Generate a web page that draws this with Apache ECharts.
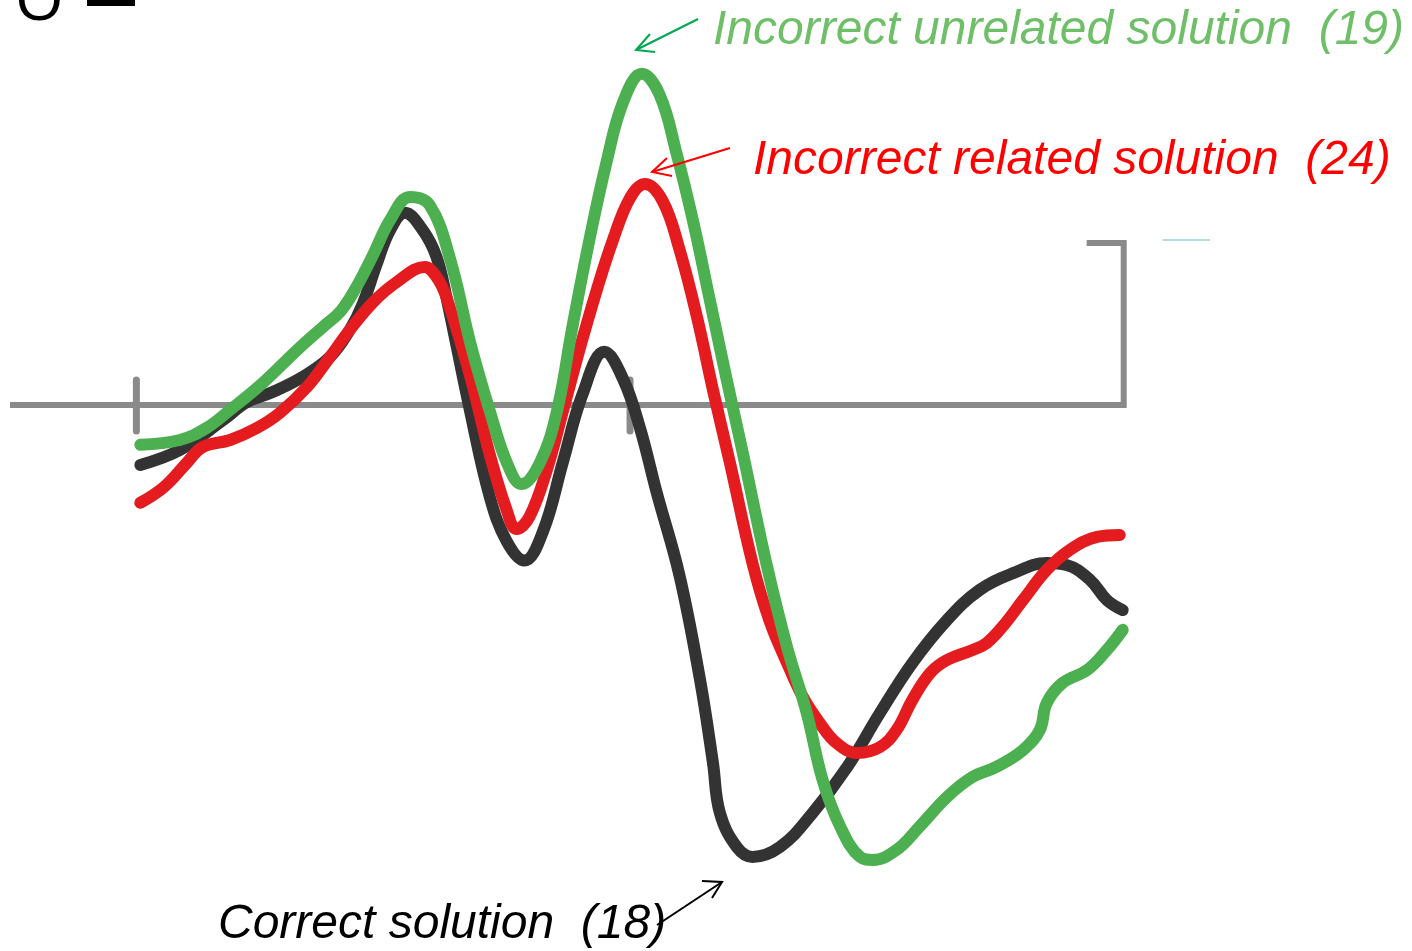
<!DOCTYPE html>
<html>
<head>
<meta charset="utf-8">
<title>ERP waveforms by solution type</title>
<script src="https://cdn.jsdelivr.net/npm/echarts@6/dist/echarts.min.js"></script>
<style>
  html, body { margin: 0; padding: 0; background: #ffffff; }
  #chart { width: 1412px; height: 951px; }
</style>
</head>
<body>
<div id="chart"></div>
<script>
// Time (ms) and amplitude (µV) samples for each condition average
const timesCorrect = [4, 44, 88, 112, 138, 168, 196, 216, 229, 244, 257, 272, 290, 304, 314, 338, 358, 375, 393, 412, 432, 452, 474, 493, 510, 527, 550, 571, 584, 591, 608, 624, 652, 685, 720, 753, 786, 821, 854, 888, 922, 942, 966, 983, 999];
const correct = [-1.85, -1.39, -0.46, 0.09, 0.40, 0.86, 1.48, 2.31, 3.10, 4.40, 5.40, 5.93, 5.40, 4.57, 3.33, -0.19, -2.84, -4.20, -4.80, -3.89, -1.76, 0.34, 1.64, 0.80, -0.70, -2.70, -5.25, -8.50, -11.05, -12.59, -13.64, -13.95, -13.64, -12.59, -11.17, -9.51, -7.96, -6.64, -5.71, -5.19, -4.88, -4.94, -5.40, -6.02, -6.33];

const timesRelated = [4, 28, 51, 67, 95, 122, 145, 173, 196, 216, 240, 264, 292, 304, 314, 338, 358, 375, 385, 398, 416, 432, 449, 466, 483, 500, 515, 533, 550, 568, 584, 601, 624, 641, 659, 675, 692, 709, 730, 753, 770, 786, 804, 821, 847, 861, 877, 898, 922, 945, 973, 996];
const incorrectRelated = [-3.02, -2.53, -1.79, -1.30, -1.08, -0.71, -0.25, 0.56, 1.48, 2.31, 3.18, 3.80, 4.26, 3.95, 3.33, 0.90, -1.54, -3.24, -3.83, -3.46, -1.98, -0.19, 1.73, 3.52, 5.12, 6.39, 6.82, 6.30, 4.81, 2.69, 0.46, -1.76, -4.88, -6.64, -7.96, -9.01, -9.81, -10.43, -10.74, -10.56, -10.03, -9.10, -8.27, -7.87, -7.56, -7.35, -6.85, -6.02, -5.09, -4.48, -4.07, -4.01];

const timesUnrelated = [4, 44, 71, 95, 128, 163, 189, 207, 223, 240, 257, 277, 297, 318, 338, 358, 375, 390, 409, 426, 442, 459, 476, 493, 512, 530, 547, 564, 581, 598, 614, 638, 659, 679, 695, 713, 733, 746, 770, 793, 821, 847, 871, 898, 915, 922, 938, 963, 983, 999];
const incorrectUnrelated = [-1.23, -1.08, -0.71, -0.15, 0.68, 1.70, 2.41, 2.90, 3.65, 4.65, 5.71, 6.42, 6.17, 4.48, 1.94, -0.19, -1.76, -2.44, -1.76, -0.19, 2.47, 5.12, 7.47, 9.35, 10.22, 9.57, 7.78, 5.65, 3.21, 0.77, -1.45, -4.88, -7.47, -9.51, -11.57, -13.02, -13.95, -14.04, -13.73, -13.02, -12.10, -11.48, -11.17, -10.65, -10.03, -9.20, -8.58, -8.18, -7.56, -6.94];

// Labels with subject counts
const seriesNames = ['Correct solution', 'Incorrect related solution', 'Incorrect unrelated solution'];
const subjectCounts = [18, 24, 19];

// Axis furniture: time ticks (ms) and calibration bar (µV)
const timeTicks = [0, 500];
const scaleBarMicrovolts = 5;

const pairs = (ts, vs) => ts.map((t, i) => [t, vs[i]]);

const chart = echarts.init(document.getElementById('chart'), null, { renderer: 'canvas' });

const AXIS_GREY = '#8a8a8a';
const furniture = [];

// Baseline plus calibration bracket on the right
furniture.push({
  type: 'line',
  data: [[-128, 0], [1000, 0], [1000, scaleBarMicrovolts], [962.5, scaleBarMicrovolts]],
  showSymbol: false, silent: true, z: 1,
  lineStyle: { color: AXIS_GREY, width: 6, cap: 'butt', join: 'miter' }
});
// Time ticks crossing the baseline
timeTicks.forEach(t => {
  furniture.push({
    type: 'line',
    data: [[t, 0.77], [t, -0.8]],
    showSymbol: false, silent: true, z: 1,
    lineStyle: { color: AXIS_GREY, width: 7, cap: 'round' }
  });
});
// Small pale marker next to the calibration bar
furniture.push({
  type: 'line',
  data: [[1039.5, 5.09], [1087.5, 5.09]],
  showSymbol: false, silent: true, z: 1,
  lineStyle: { color: '#b3dde1', width: 2, cap: 'butt' }
});

function wave(name, data, color, z) {
  return {
    type: 'line', name, data, z,
    showSymbol: false, silent: true, smooth: 0.4,
    lineStyle: { color, width: 12, cap: 'round', join: 'round' }
  };
}

const FONT = 'italic 48px "Liberation Sans", Arial, sans-serif';

function arrow(line, head, color) {
  return [
    { type: 'polyline', shape: { points: line }, style: { stroke: color, lineWidth: 2, fill: null }, z: 20 },
    { type: 'polyline', shape: { points: head }, style: { stroke: color, lineWidth: 2, fill: null }, z: 20 }
  ];
}

const option = {
  animation: false,
  backgroundColor: '#ffffff',
  grid: { left: 10, right: 0, top: 0, bottom: 0, containLabel: false },
  xAxis: {
    type: 'value', min: -128, max: 1292,
    axisLine: { show: false }, axisTick: { show: false },
    axisLabel: { show: false }, splitLine: { show: false }
  },
  yAxis: {
    type: 'value', min: -16.852, max: 12.5,
    axisLine: { show: false }, axisTick: { show: false },
    axisLabel: { show: false }, splitLine: { show: false }
  },
  series: furniture.concat([
    wave(seriesNames[0], pairs(timesCorrect, correct), '#333333', 3),
    wave(seriesNames[1], pairs(timesRelated, incorrectRelated), '#e41b1f', 4),
    wave(seriesNames[2], pairs(timesUnrelated, incorrectUnrelated), '#4caf50', 5)
  ]),
  graphic: [
    // Panel label, cropped at the top edge
    { type: 'text', left: 16, top: -27, z: 20,
      style: { text: 'O', font: '60px "Liberation Sans", Arial, sans-serif', fill: '#000000' } },
    { type: 'rect', shape: { x: 87, y: 0, width: 48, height: 6 }, style: { fill: '#000000' }, z: 20 },

    { type: 'text', x: 713, y: 31, z: 20,
      style: { text: seriesNames[2] + '  (' + subjectCounts[2] + ')', font: FONT, fill: '#6ebf68', verticalAlign: 'middle' } },
    { type: 'text', x: 753, y: 161, z: 20,
      style: { text: seriesNames[1] + '  (' + subjectCounts[1] + ')', font: FONT, fill: '#ff0000', verticalAlign: 'middle' } },
    { type: 'text', x: 218, y: 925, z: 20,
      style: { text: seriesNames[0] + '  (' + subjectCounts[0] + ')', font: FONT, fill: '#000000', verticalAlign: 'middle' } }
  ].concat(
    arrow([[698, 19], [636, 50]], [[650, 34], [636, 50], [655, 52]], '#00a650'),
    arrow([[730, 148], [652, 172]], [[667, 158], [652, 172], [672, 176]], '#ff0000'),
    arrow([[657, 925], [722, 882]], [[702, 881], [722, 882], [712, 898]], '#000000')
  )
};

chart.setOption(option);
</script>
</body>
</html>
